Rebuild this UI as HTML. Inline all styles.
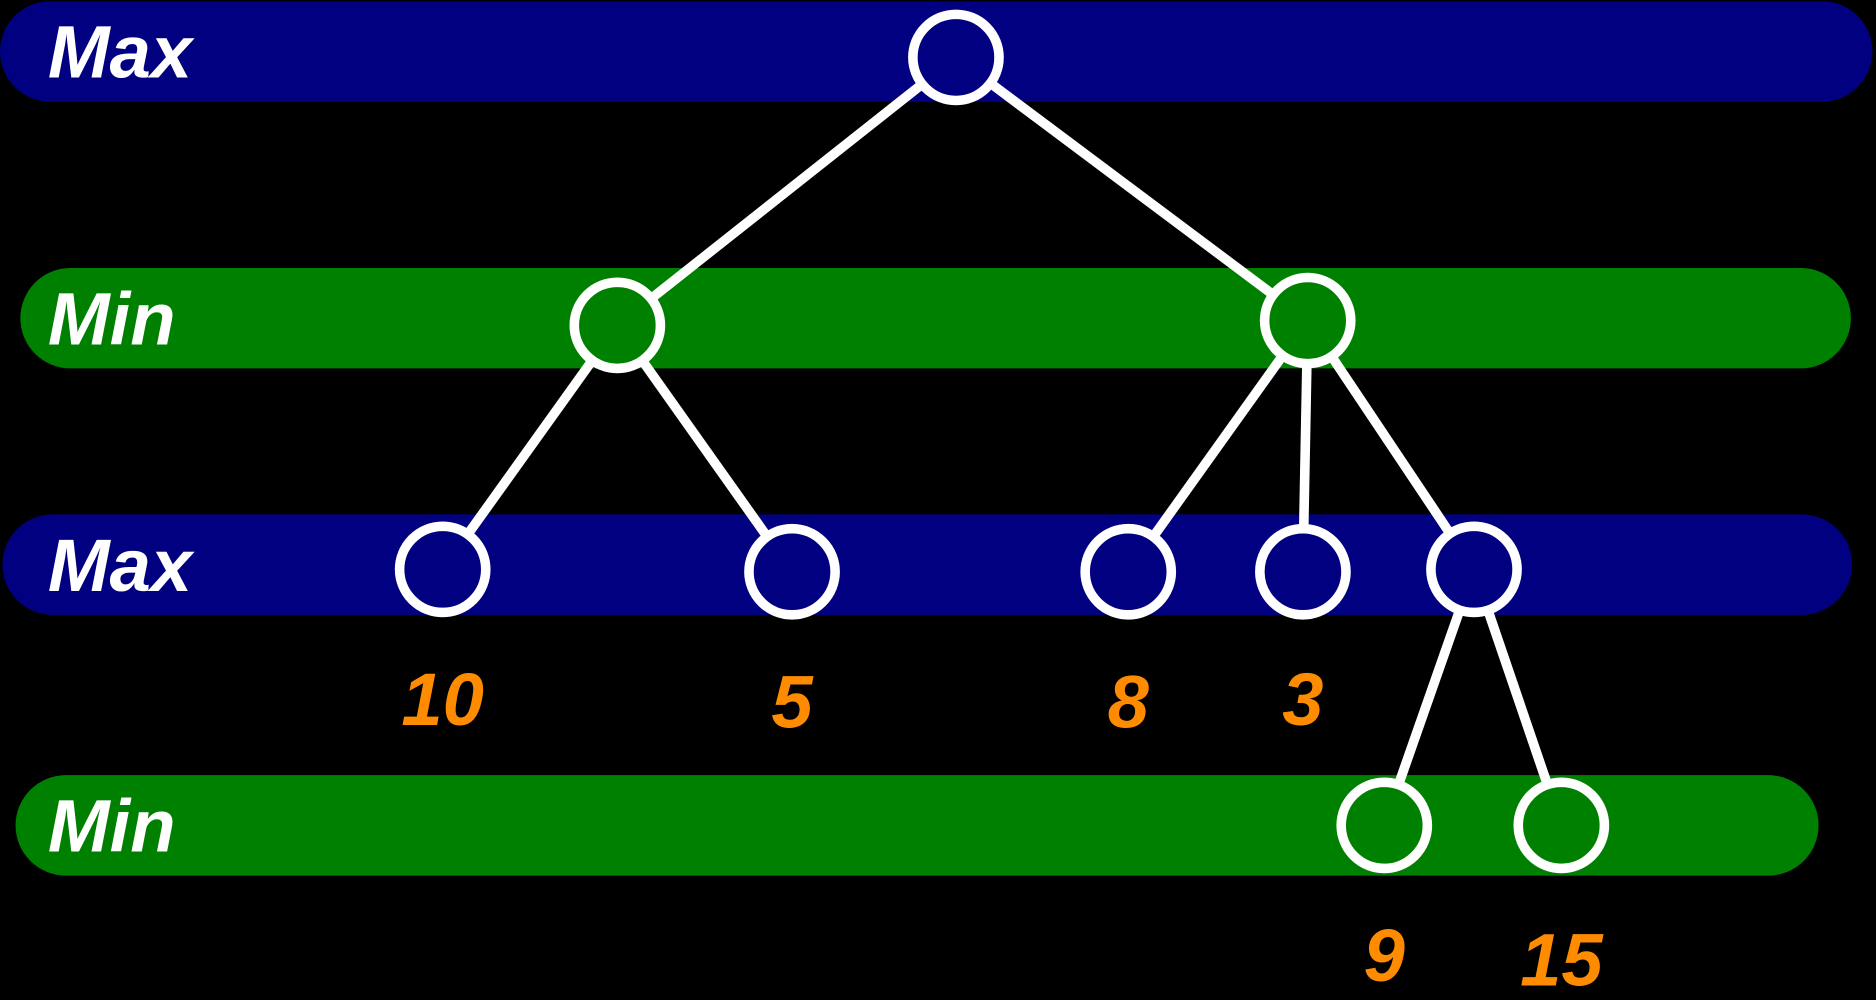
<!DOCTYPE html>
<html><head><meta charset="utf-8"><style>
html,body{margin:0;padding:0;background:#000;}
svg{display:block;}
</style></head><body>
<svg id="c" width="1876" height="1000" viewBox="0 0 1568 836" preserveAspectRatio="none" xmlns="http://www.w3.org/2000/svg">
<rect x="0" y="0" width="1568" height="836" fill="#000"/>
<g id="bands"></g><g id="edges"></g><g id="nodes"></g><g id="labels"></g>
</svg>
<script>
const bandLabels = ["Max","Min","Max","Min"];
const bandX0 = [0,17,2,13];
const bandX1 = [1565,1547,1548,1520];
const bandY = [43,266,472,690];
const nodeX = [799,516,1093,370,662,943,1089,1232,1157,1305];
const nodeY = [48,272,268,476,478,478,478,476,690,690];
const nodeLevel = [0,1,1,2,2,2,2,2,3,3];
const edgeFrom = [0,0,1,1,2,2,2,7,7];
const edgeTo = [1,2,3,4,5,6,7,8,9];
const leafNode = [3,4,5,6,8,9];
const leafValue = ["10","5","8","3","9","15"];
const leafDy = [108,108,108,106,108,112];

const NS="http://www.w3.org/2000/svg";
const colors=["#000080","#008000"];
const bands=document.getElementById('bands');
bandLabels.forEach((lab,i)=>{
  const r=document.createElementNS(NS,'rect');
  
  
  r.setAttribute('x',bandX0[i]);r.setAttribute('y',bandY[i]-42);
  r.setAttribute('width',bandX1[i]-bandX0[i]);r.setAttribute('height',84);
  r.setAttribute('rx',42);r.setAttribute('fill',colors[i%2]);
  bands.appendChild(r);
  const t=document.createElementNS(NS,'text');
  
  
  t.setAttribute('x',40);t.setAttribute('y',bandY[i]+22);
  t.setAttribute('fill','#fff');t.setAttribute('font-size','62');
  t.setAttribute('font-style','italic');t.setAttribute('font-weight','bold');
  t.setAttribute('font-family','"Liberation Sans", sans-serif');
  t.textContent=lab;
  bands.appendChild(t);
});
const R=36;
const eg=document.getElementById('edges');
edgeFrom.forEach((f,i)=>{
  const a=edgeTo[i];
  const dx=nodeX[a]-nodeX[f],dy=nodeY[a]-nodeY[f],L=Math.hypot(dx,dy);
  const l=document.createElementNS(NS,'line');
  
  
  l.setAttribute('x1',nodeX[f]+dx/L*(R+4));l.setAttribute('y1',nodeY[f]+dy/L*(R+4));
  l.setAttribute('x2',nodeX[a]-dx/L*(R+4));l.setAttribute('y2',nodeY[a]-dy/L*(R+4));
  l.setAttribute('stroke','#fff');l.setAttribute('stroke-width',8);l.setAttribute('stroke-linecap','round');
  eg.appendChild(l);
});
const ng=document.getElementById('nodes');
nodeX.forEach((x,i)=>{
  const c=document.createElementNS(NS,'ellipse');
  
  
  c.setAttribute('cx',x);c.setAttribute('cy',nodeY[i]);
  c.setAttribute('rx',R);c.setAttribute('ry',R);
  c.setAttribute('fill',colors[nodeLevel[i]%2]);
  c.setAttribute('stroke','#fff');c.setAttribute('stroke-width',8);
  ng.appendChild(c);
});
const lg=document.getElementById('labels');
leafNode.forEach((n,i)=>{
  const t=document.createElementNS(NS,'text');
  
  
  t.setAttribute('x',nodeX[n]);t.setAttribute('y',nodeY[n]+leafDy[i]+22);
  t.setAttribute('text-anchor','middle');
  t.setAttribute('fill','#FF8C00');t.setAttribute('font-size','62');
  t.setAttribute('font-style','italic');t.setAttribute('font-weight','bold');
  t.setAttribute('font-family','"Liberation Sans", sans-serif');
  t.textContent=leafValue[i];
  lg.appendChild(t);
});
</script>
</body></html>
